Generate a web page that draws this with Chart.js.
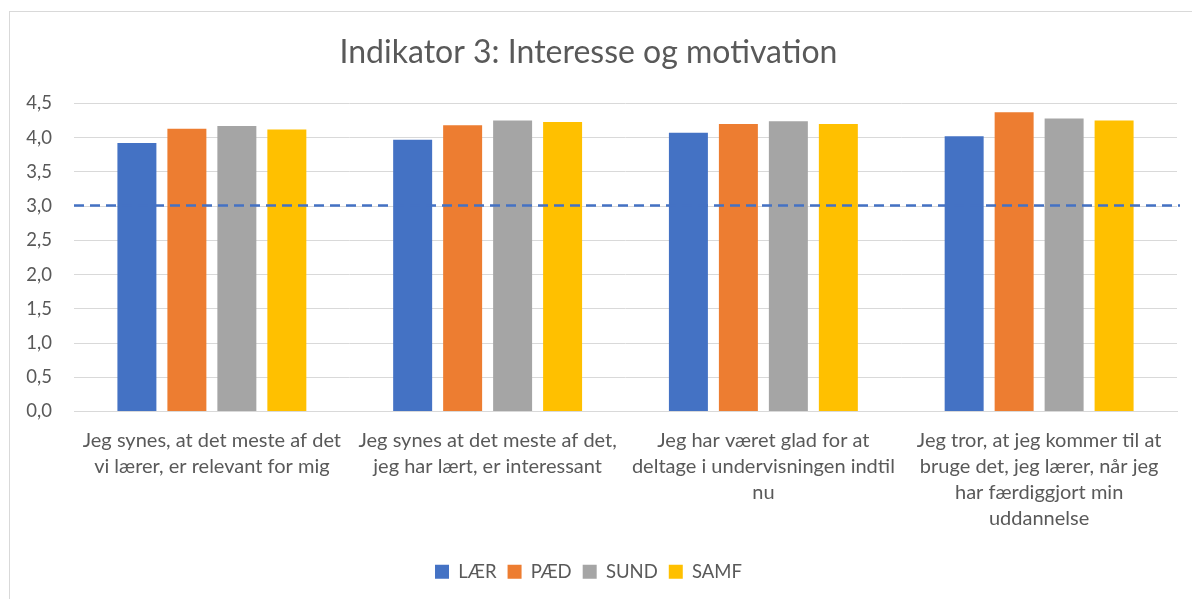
<!DOCTYPE html>
<html>
<head>
<meta charset="utf-8">
<script src="https://cdn.jsdelivr.net/npm/chart.js"></script>
<style>
  html, body { margin: 0; padding: 0; background: #fff; }
  body { width: 1192px; height: 599px; overflow: hidden; position: relative; }
  #frame { position: absolute; left: 9px; top: 11px; width: 1300px; height: 700px; border: 1px solid #d9d9d9; }
  #indikator3 { position: absolute; left: 0; top: 0; }
</style>
</head>
<body>
<div id="frame"></div>
<canvas id="indikator3" width="1192" height="599"></canvas>

<script>
// spørgsmål (hver linje er et element)
const questions = [
    ['Jeg synes, at det meste af det', 'vi lærer, er relevant for mig'],
    ['Jeg synes at det meste af det,', 'jeg har lært, er interessant'],
    ['Jeg har været glad for at', 'deltage i undervisningen indtil', 'nu'],
    ['Jeg tror, at jeg kommer til at', 'bruge det, jeg lærer, når jeg', 'har færdiggjort min', 'uddannelse']
];

const laer = [3.92, 3.97, 4.07, 4.02];
const paed = [4.13, 4.18, 4.20, 4.37];
const sund = [4.17, 4.25, 4.24, 4.28];
const samf = [4.12, 4.23, 4.20, 4.25];

const yTicks = [0, 0.5, 1, 1.5, 2, 2.5, 3, 3.5, 4, 4.5];
const referenceValue = 3.02;

const grey = '#595959';

// stiplet referencelinje hen over hele plotområdet
const refLine = {
    id: 'refLine',
    afterDatasetsDraw(chart) {
        const { ctx, chartArea, scales } = chart;
        const y = Math.round(scales.y.getPixelForValue(referenceValue)) + 0.5;
        ctx.save();
        ctx.strokeStyle = '#4472C4';
        ctx.lineWidth = 2.5;
        ctx.setLineDash([10, 6]);
        ctx.beginPath();
        ctx.moveTo(chartArea.left, y);
        ctx.lineTo(chartArea.right + 3, y);
        ctx.stroke();
        ctx.restore();
    }
};

const ctx = document.getElementById('indikator3').getContext('2d');
new Chart(ctx, {
    type: 'bar',
    data: {
        labels: questions,
        datasets: [
            { label: 'LÆR', data: laer, backgroundColor: '#4472C4' },
            { label: 'PÆD', data: paed, backgroundColor: '#ED7D31' },
            { label: 'SUND', data: sund, backgroundColor: '#A5A5A5' },
            { label: 'SAMF', data: samf, backgroundColor: '#FFC000' }
        ]
    },
    options: {
        responsive: false,
        animation: false,
        devicePixelRatio: 1,
        categoryPercentage: 0.725,
        barPercentage: 0.78,
        layout: { padding: { left: 0, right: 15, top: 33, bottom: 8 } },
        scales: {
            x: {
                grid: { display: false },
                border: { display: true, color: '#d9d9d9' },
                ticks: {
                    color: grey,
                    font: { family: 'Lato', size: 20, lineHeight: 1.3 },
                    padding: 8,
                    maxRotation: 0,
                    autoSkip: false
                },
                afterFit(scale) { scale.height = 140; }
            },
            y: {
                min: 0,
                max: 4.5,
                afterBuildTicks(scale) { scale.ticks = yTicks.map(v => ({ value: v })); },
                grid: { color: '#d9d9d9', drawTicks: false },
                border: { display: false },
                ticks: {
                    color: grey,
                    font: { family: 'Lato', size: 18.5 },
                    padding: 22,
                    callback: v => v.toFixed(1).replace('.', ',')
                },
                afterFit(scale) { scale.width = 74; }
            }
        },
        plugins: {
            title: {
                display: true,
                text: 'Indikator 3: Interesse og motivation',
                color: grey,
                font: { family: 'Lato', size: 32, weight: 'normal' },
                padding: { top: 0, bottom: 32 }
            },
            legend: {
                position: 'bottom',
                labels: {
                    color: grey,
                    font: { family: 'Lato', size: 18.5 },
                    boxWidth: 14,
                    boxHeight: 14,
                    padding: 11
                }
            },
            tooltip: { enabled: false }
        }
    },
    plugins: [refLine]
});
</script>
</body>
</html>
